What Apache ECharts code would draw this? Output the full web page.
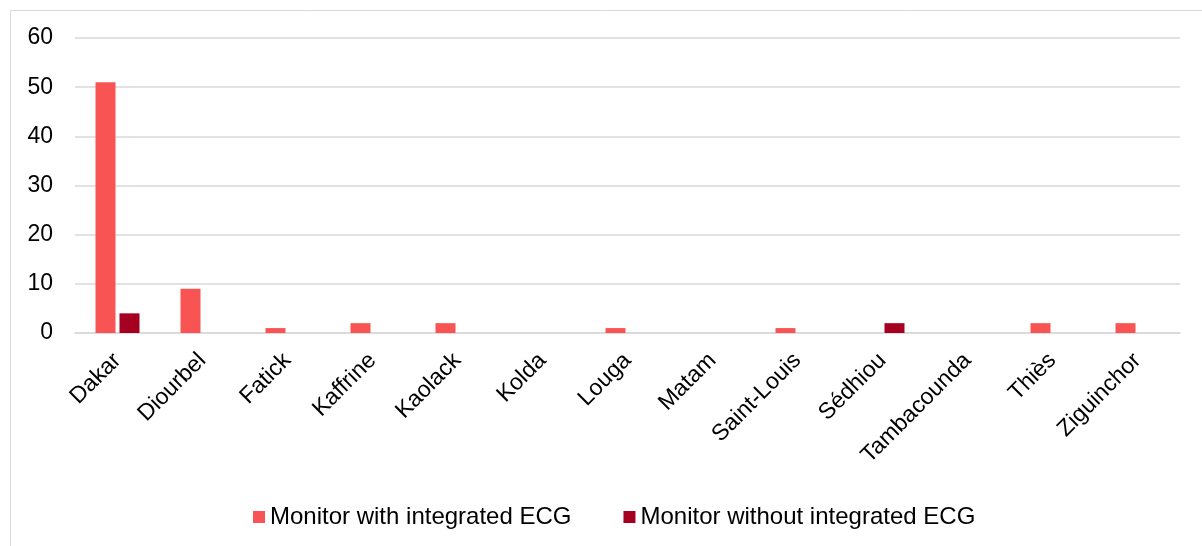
<!DOCTYPE html>
<html>
<head>
<meta charset="utf-8">
<script src="https://cdn.jsdelivr.net/npm/echarts@6/dist/echarts.min.js"></script>
<style>
  html, body { margin: 0; padding: 0; background: #fff; }
  #chart { width: 1202px; height: 546px; }
</style>
</head>
<body>
<div id="chart"></div>
<script>
// regions
var categories = ['Dakar', 'Diourbel', 'Fatick', 'Kaffrine', 'Kaolack', 'Kolda', 'Louga',
  'Matam', 'Saint-Louis', 'Sédhiou', 'Tambacounda', 'Thiès', 'Ziguinchor'];

var withEcg = [51, 9, 1, 2, 2, 0, 1, 0, 1, 0, 0, 2, 2];
var withoutEcg = [4, 0, 0, 0, 0, 0, 0, 0, 0, 2, 0, 0, 0];

var seriesNames = ['Monitor with integrated ECG', 'Monitor without integrated ECG'];

var chart = echarts.init(document.getElementById('chart'));

var font = 'Arial, "Liberation Sans", sans-serif';

chart.setOption({
  animation: false,
  textStyle: { fontFamily: font },
  graphic: [{
    type: 'rect',
    shape: { x: 10.5, y: 10.5, width: 1200, height: 560 },
    style: { fill: 'none', stroke: '#d9d9d9', lineWidth: 1 },
    silent: true
  }],
  grid: { left: 75, right: 22, top: 38, bottom: 213 },
  legend: {
    top: 500,
    left: 248,
    itemWidth: 12,
    itemHeight: 12,
    itemGap: 52,
    itemTextGap: 4,
    icon: 'rect',
    textStyle: { fontSize: 24, color: '#000', fontFamily: font },
    data: seriesNames
  },
  xAxis: {
    type: 'category',
    data: categories,
    axisTick: { show: false },
    axisLine: { lineStyle: { color: '#d9d9d9', width: 1.5 } },
    axisLabel: { rotate: 45, fontSize: 23, color: '#000', margin: 24, fontFamily: font, interval: 0 }
  },
  yAxis: {
    type: 'value',
    min: 0,
    max: 60,
    interval: 10,
    axisLine: { show: false },
    axisTick: { show: false },
    axisLabel: { fontSize: 23, color: '#000', margin: 22, fontFamily: font },
    splitLine: { lineStyle: { color: '#d9d9d9', width: 1.5 } }
  },
  series: [{
    name: seriesNames[0],
    type: 'bar',
    data: withEcg,
    barWidth: 20,
    barGap: '20%',
    itemStyle: { color: '#F95454' }
  }, {
    name: seriesNames[1],
    type: 'bar',
    data: withoutEcg,
    barWidth: 20,
    itemStyle: { color: '#A50021' }
  }]
});
</script>
</body>
</html>
